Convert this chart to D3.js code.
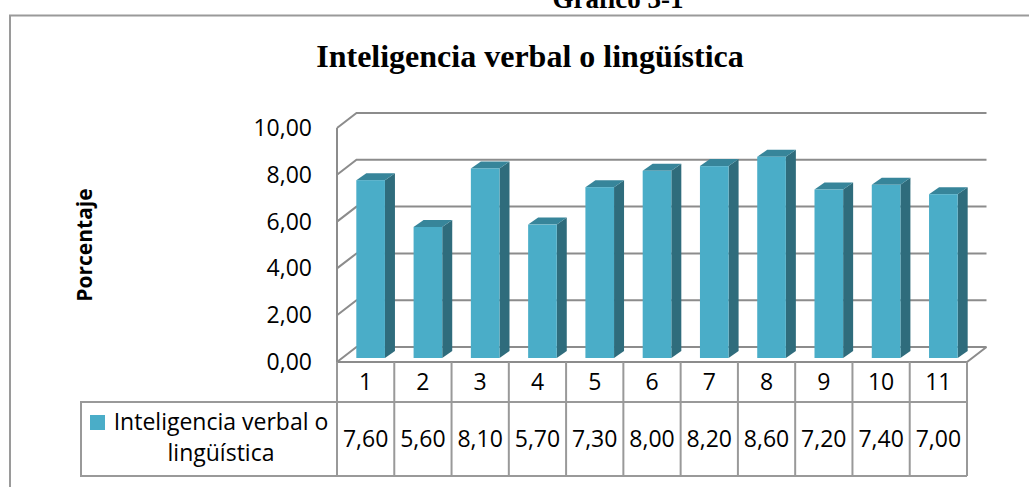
<!DOCTYPE html>
<html>
<head>
<meta charset="utf-8">
<script src="https://cdn.jsdelivr.net/npm/d3@7"></script>
<style>
  body { margin: 0; background: #fff; }
  svg { display: block; }
</style>
</head>
<body>
<script>
// data
const categories = ["1", "2", "3", "4", "5", "6", "7", "8", "9", "10", "11"];
const values = [7.6, 5.6, 8.1, 5.7, 7.3, 8.0, 8.2, 8.6, 7.2, 7.4, 7.0];
const yTicks = [0, 2, 4, 6, 8, 10];
const seriesName = ["Inteligencia verbal o", "lingüística"];
const title = "Inteligencia verbal o lingüística";
const caption = "Gráfico 3-1";
const yLabel = "Porcentaje";

const width = 1029, height = 487;
const plot = { left: 337, right: 967, bottom: 362, top: 128 };
const wall = { dx: 19.5, dy: -15 };   // back wall offset
const barShift = { dx: 5, dy: -4 };   // bars sit a little behind the front edge
const depth = { dx: 10, dy: -7 };     // bar thickness
const fmt = v => v.toFixed(2).replace(".", ",");
const numFont = "'Open Sans', sans-serif";
const grid = "#8c8c8c";

const svg = d3.select("body").append("svg")
  .attr("width", width)
  .attr("height", height);

// caption above the frame (cut by the top edge, as in the source)
svg.append("text")
  .attr("x", 618).attr("y", 8)
  .attr("text-anchor", "middle")
  .style("font", "bold 27px 'Liberation Serif', serif")
  .text(caption);

// chart frame
svg.append("rect")
  .attr("x", 10).attr("y", 15.5)
  .attr("width", 1100).attr("height", 600)
  .attr("fill", "none")
  .attr("stroke", "#9a9a9a")
  .attr("stroke-width", 2);

svg.append("text")
  .attr("x", 530).attr("y", 67)
  .attr("text-anchor", "middle")
  .style("font", "bold 32px 'Liberation Serif', serif")
  .text(title);

const x = d3.scaleBand()
  .domain(categories)
  .range([plot.left, plot.right])
  .paddingInner(0.5)
  .paddingOuter(0.25);

const col = d3.scaleBand()
  .domain(categories)
  .range([plot.left, plot.right]);

const y = d3.scaleLinear()
  .domain([0, 10])
  .range([plot.bottom, plot.top]);

// walls + gridlines
const g = svg.append("g")
  .attr("fill", "none")
  .attr("stroke", grid)
  .attr("stroke-width", 2);

g.selectAll("path.grid")
  .data(yTicks)
  .join("path")
  .attr("class", "grid")
  .attr("d", d => `M${plot.left},${y(d)}L${plot.left + wall.dx},${y(d) + wall.dy}L${plot.right + wall.dx},${y(d) + wall.dy}`);

g.append("path")
  .attr("d", `M${plot.left},${y(10)}L${plot.left},${y(0)}L${plot.right},${y(0)}L${plot.right + wall.dx},${y(0) + wall.dy}`);

// y tick labels
svg.append("g")
  .selectAll("text")
  .data(yTicks)
  .join("text")
  .attr("x", 312)
  .attr("y", d => y(d))
  .attr("dy", "0.35em")
  .attr("text-anchor", "end")
  .style("font", `23px ${numFont}`)
  .attr("fill", "#000")
  .text(fmt);

svg.append("text")
  .attr("transform", "translate(92,245) rotate(-90)")
  .attr("text-anchor", "middle")
  .style("font", `bold 21px ${numFont}`)
  .text(yLabel);

// 3d bars
const bars = svg.append("g")
  .selectAll("g")
  .data(values)
  .join("g")
  .attr("transform", (d, i) => `translate(${x(categories[i]) + barShift.dx},${barShift.dy})`);

const bw = x.bandwidth();
bars.append("path")
  .attr("fill", "#2f6c7c")
  .attr("d", d => `M${bw},${y(d)}L${bw + depth.dx},${y(d) + depth.dy}L${bw + depth.dx},${y(0) + depth.dy}L${bw},${y(0)}Z`);
bars.append("path")
  .attr("fill", "#37859a")
  .attr("d", d => `M0,${y(d)}L${depth.dx},${y(d) + depth.dy}L${bw + depth.dx},${y(d) + depth.dy}L${bw},${y(d)}Z`);
bars.append("rect")
  .attr("x", 0)
  .attr("y", d => y(d))
  .attr("width", bw)
  .attr("height", d => y(0) - y(d))
  .attr("fill", "#4aadc8");

// data table
const row1 = { top: plot.bottom, bottom: 402 };
const row2 = { top: 402, bottom: 476 };
const tableLeft = 81;
const t = svg.append("g")
  .attr("fill", "none")
  .attr("stroke", "#999")
  .attr("stroke-width", 2);

t.selectAll("line.v")
  .data(categories.map(c => col(c)).concat([plot.right]))
  .join("line")
  .attr("class", "v")
  .attr("x1", d => d).attr("x2", d => d)
  .attr("y1", row1.top).attr("y2", row2.bottom);
t.append("path")
  .attr("d", `M${plot.right},${row2.top}L${tableLeft},${row2.top}L${tableLeft},${row2.bottom}L${plot.right},${row2.bottom}`);

svg.append("g")
  .selectAll("text")
  .data(categories)
  .join("text")
  .attr("x", d => col(d) + col.bandwidth() / 2)
  .attr("y", (row1.top + row1.bottom) / 2)
  .attr("dy", "0.35em")
  .attr("text-anchor", "middle")
  .style("font", `23px ${numFont}`)
  .text(d => d);

svg.append("g")
  .selectAll("text")
  .data(values)
  .join("text")
  .attr("x", (d, i) => col(categories[i]) + col.bandwidth() / 2)
  .attr("y", (row2.top + row2.bottom) / 2)
  .attr("dy", "0.35em")
  .attr("text-anchor", "middle")
  .style("font", `23px ${numFont}`)
  .text(fmt);

// legend key + series name
svg.append("rect")
  .attr("x", 90).attr("y", 415)
  .attr("width", 15).attr("height", 15)
  .attr("fill", "#4aadc8");

svg.append("text")
  .attr("text-anchor", "middle")
  .style("font", `23px ${numFont}`)
  .selectAll("tspan")
  .data(seriesName)
  .join("tspan")
  .attr("x", 221)
  .attr("y", (d, i) => 430 + i * 31)
  .text(d => d);
</script>
</body>
</html>
